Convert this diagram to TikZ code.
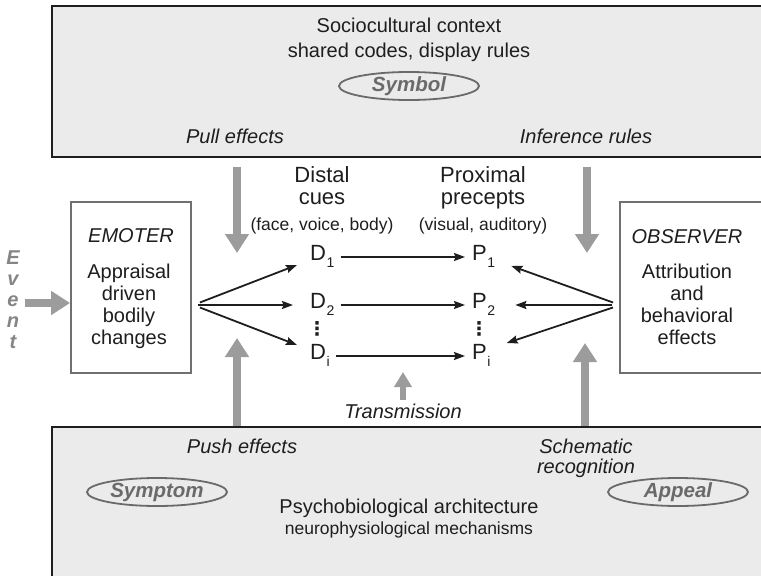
\documentclass[tikz,border=0pt]{standalone}
\usepackage{fontspec}
\setmainfont{Liberation Sans}
\newfontfamily\dotsfont{DejaVu Sans}
\usetikzlibrary{arrows.meta,shapes.geometric,calc}

\definecolor{panel}{HTML}{EBEBEB}
\definecolor{flow}{HTML}{9C9C9C}
\definecolor{tagc}{HTML}{6A6A6A}
\definecolor{framec}{HTML}{707070}
\definecolor{ink}{HTML}{1E1E1E}

% subscript for cue labels
\newcommand{\cuesub}[1]{\kern0.5pt\raisebox{-7pt}{\fontsize{14}{14}\selectfont #1}}

\tikzset{
  panelbox/.style={draw=ink, line width=2.2pt, fill=panel, anchor=north west, inner sep=0},
  actorbox/.style={draw=framec, line width=1.8pt, fill=white, inner sep=0},
  big/.style={font=\fontsize{20}{22}\selectfont, inner sep=0, anchor=base, text=ink},
  small/.style={font=\fontsize{17.5}{20}\selectfont, inner sep=0, anchor=base, text=ink},
  cuehead/.style={font=\fontsize{22}{24}\selectfont, inner sep=0, anchor=base, text=ink},
  lbl/.style={font=\fontsize{20}{22}\selectfont\itshape, inner sep=0, anchor=base, text=ink},
  bodytxt/.style={font=\fontsize{20}{22}\selectfont, inner sep=0, anchor=north, align=center, text=ink},
  tagell/.style={ellipse, draw=tagc, line width=1.8pt, fill=panel, minimum width=140pt,
    minimum height=28pt, inner sep=0, font=\fontsize{20.5}{22}\selectfont\bfseries\itshape, text=tagc},
  cuelbl/.style={font=\fontsize{22}{24}\selectfont, inner sep=0, anchor=base west, text=ink},
  rowdots/.style={font=\dotsfont\bfseries\fontsize{19}{20}\selectfont, text=ink, inner sep=0},
  flowarrow/.style={draw=flow, line width=8pt, -{Triangle[length=19pt,width=23pt]}},
  thinflow/.style={draw=flow, line width=5.5pt, -{Triangle[length=15pt,width=17pt]}},
  cue/.style={draw=ink, line width=1.8pt, -{Stealth[length=11pt,width=8pt,inset=1.5pt]}}
}

\begin{document}
\begin{tikzpicture}[x=1pt,y=-1pt]
\useasboundingbox (0,0) rectangle (761,576);
\clip (0,0) rectangle (761,576);

% sociocultural panel
\node[panelbox, minimum width=730pt, minimum height=151pt] (ctx) at (51,5) {};
\node[big] (ctxtitle) at (409,32) {Sociocultural context};
\node[big] (ctxsub) at (409,57) {shared codes, display rules};
\node[tagell] (symbol) at (409,86) {Symbol};
\node[lbl] (pull) at (235,143) {Pull effects};
\node[lbl] (infer) at (586,143) {Inference rules};

% psychobiological panel
\node[panelbox, minimum width=730pt, minimum height=170pt] (bio) at (51,426) {};
\node[lbl] (push) at (242,453) {Push effects};
\node[lbl] (schem) at (586,453) {Schematic};
\node[lbl] (recog) at (586,473) {recognition};
\node[tagell] (symptom) at (157,492) {Symptom};
\node[tagell] (appeal) at (678,492) {Appeal};
\node[big] (biotitle) at (409,513) {Psychobiological architecture};
\node[small] (biosub) at (409,534) {neurophysiological mechanisms};

% emoter and observer
\node[actorbox, minimum width=120pt, minimum height=171pt] (emoter) at (131,287.5) {};
\node[lbl] (emotitle) at (131,242) {EMOTER};
\node[bodytxt] (emobody) at (129,263.5) {Appraisal\\driven\\bodily\\changes};

\node[actorbox, minimum width=160pt, minimum height=171pt, anchor=west] (observer) at (619,287.5) {};
\node[lbl] (obstitle) at (687,243) {OBSERVER};
\node[bodytxt] (obsbody) at (687,263.5) {Attribution\\and\\behavioral\\effects};

% event input
\node[font=\fontsize{20}{21}\selectfont\bfseries\itshape, text=flow!85!black, align=center,
  inner sep=0, anchor=north] (event) at (13,251) {E\\v\\e\\n\\t};
\coordinate (evA) at (25,303);
\draw[flowarrow] (evA) -- (emoter.west |- evA);

% column headings
\node[cuehead] (distal) at (322,182) {Distal};
\node[cuehead] (cues) at (322,204) {cues};
\node[small] (distalsub) at (322,230) {(face, voice, body)};
\node[cuehead] (prox) at (483,182) {Proximal};
\node[cuehead] (precepts) at (483,204) {precepts};
\node[small] (proxsub) at (483,230) {(visual, auditory)};

% distal cues and proximal percepts
\node[cuelbl] (d1) at (310,260) {D\cuesub{1}};
\node[cuelbl] (d2) at (310,308) {D\cuesub{2}};
\node[cuelbl] (di) at (310,359) {D\cuesub{i}};
\node[rowdots] (ddots) at (317,329) {⋮};
\node[cuelbl] (p1) at (472,260) {P\cuesub{1}};
\node[cuelbl] (p2) at (472,308) {P\cuesub{2}};
\node[cuelbl] (pi) at (472,359) {P\cuesub{i}};
\node[rowdots] (pdots) at (479,329) {⋮};

% externalisation: emoter to distal cues
\draw[cue] ($(emoter.east)+(8,15)$) -- ($(d1.base west)+(-13,5)$);
\draw[cue] ($(emoter.east)+(6,17.5)$) -- ($(d2.base west)+(-17,-3)$);
\draw[cue] ($(emoter.east)+(8,20)$) -- ($(di.base west)+(-13,-14)$);

% transmission
\draw[cue] ($(d1.base east)+(6,-3)$) -- ($(p1.base west)+(-7,-3)$);
\draw[cue] ($(d2.base east)+(6,-3)$) -- ($(p2.base west)+(-7,-3)$);
\draw[cue] ($(di.base east)+(6,-3)$) -- ($(pi.base west)+(-7,-3)$);

% inference: observer to proximal percepts
\draw[cue] ($(observer.west)+(-6,15)$) -- ($(p1.base east)+(16,6)$);
\draw[cue] ($(observer.west)+(-7,17.5)$) -- ($(p2.base east)+(20,-3)$);
\draw[cue] ($(observer.west)+(-6,20)$) -- ($(pi.base east)+(16,-16)$);

% contextual influences
\coordinate (pullA) at (237,167);
\coordinate (pullB) at (237,253);
\draw[flowarrow] (pullA) -- (pullB);
\coordinate (infA) at (587,167);
\coordinate (infB) at (587,253);
\draw[flowarrow] (infA) -- (infB);
\coordinate (pushB) at (237,338);
\draw[flowarrow] (bio.north -| pushB) -- (pushB);
\coordinate (schemB) at (585,343);
\draw[flowarrow] (bio.north -| schemB) -- (schemB);
\coordinate (transA) at (403,400);
\coordinate (transB) at (403,372);
\draw[thinflow] (transA) -- (transB);
\node[lbl] (trans) at (403,418) {Transmission};
\end{tikzpicture}
\end{document}
